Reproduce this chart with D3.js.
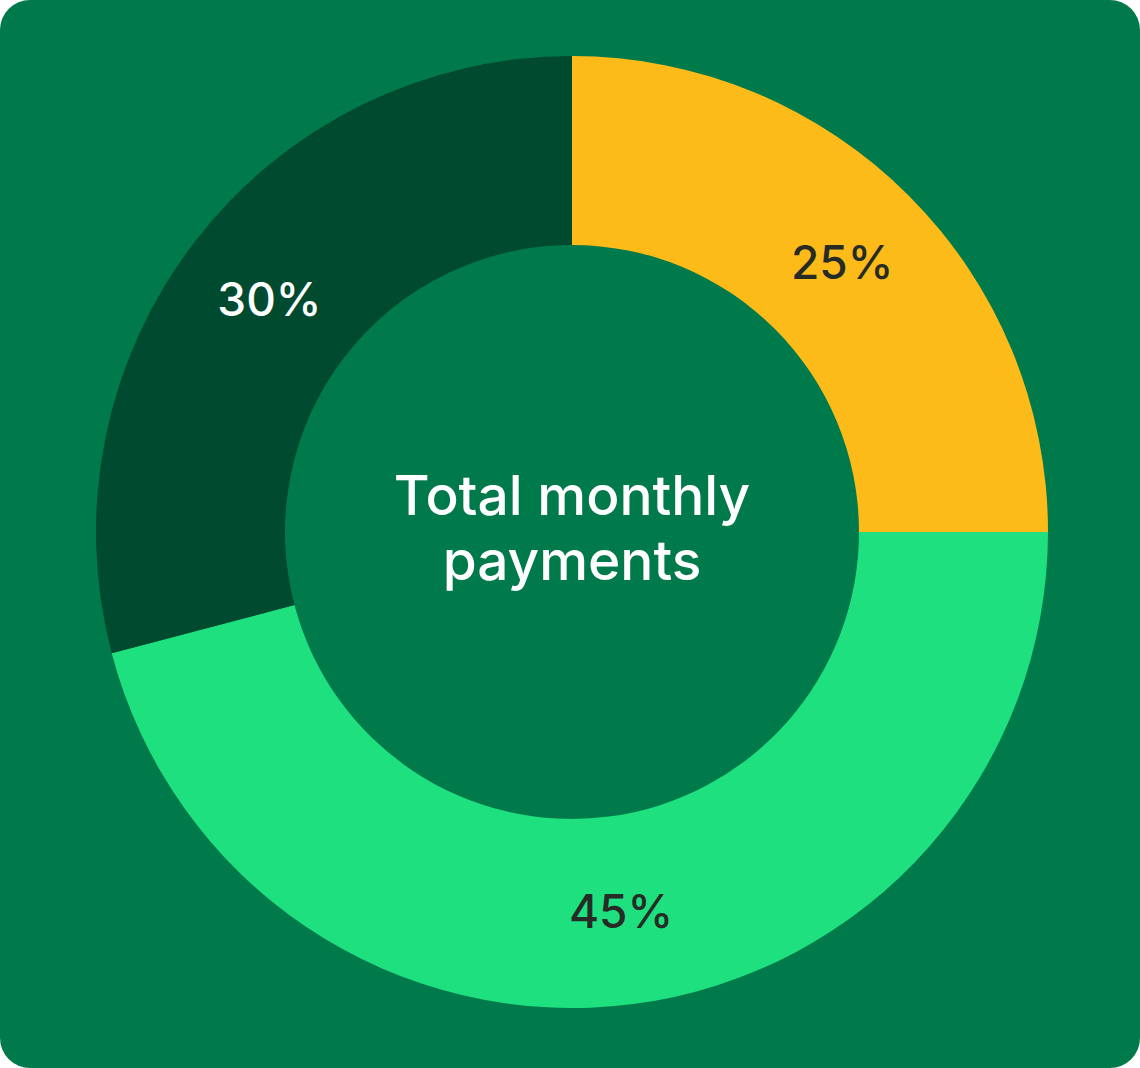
<!DOCTYPE html>
<html>
<head>
<meta charset="utf-8">
<script src="https://cdn.jsdelivr.net/npm/d3@7"></script>
<style>
  html, body { margin: 0; padding: 0; background: #ffffff; }
  svg { display: block; font-family: Inter, Roboto, sans-serif; }
</style>
</head>
<body>
<svg id="chart"></svg>
<script>
const categories = ['A', 'B', 'C'];
const shares = [25, 45.9, 29.1];
const labels = ['25%', '45%', '30%'];
const sliceColors = ['#fdbb19', '#1ee07f', '#004a30'];
const labelColors = ['#262b26', '#262b26', '#ffffff'];
const centerLines = ['Total monthly', 'payments'];

const width = 1140;
const height = 1068;
const cx = 572;
const cy = 532;
const outerR = 476;
const innerR = 287;

const svg = d3.select('#chart')
  .attr('width', width)
  .attr('height', height);

// Card background
svg.append('rect')
  .attr('width', width)
  .attr('height', height)
  .attr('rx', 30)
  .attr('fill', '#007a4a');

const g = svg.append('g')
  .attr('transform', `translate(${cx}, ${cy})`);

const data = categories.map((c, i) => ({ cat: c, value: shares[i], label: labels[i], i }));

const pie = d3.pie()
  .value(d => d.value)
  .sort(null);

const arc = d3.arc()
  .innerRadius(innerR)
  .outerRadius(outerR);

const labelArc = d3.arc()
  .innerRadius(382)
  .outerRadius(382);

const arcs = pie(data);

g.selectAll('.slice')
  .data(arcs)
  .enter()
  .append('path')
  .attr('class', 'slice')
  .attr('d', arc)
  .attr('fill', d => sliceColors[d.data.i]);

g.selectAll('.label')
  .data(arcs)
  .enter()
  .append('text')
  .attr('class', 'label')
  .attr('transform', d => `translate(${labelArc.centroid(d)})`)
  .attr('text-anchor', 'middle')
  .attr('dominant-baseline', 'central')
  .attr('font-size', 46)
  .attr('font-weight', 500)
  .attr('fill', d => labelColors[d.data.i])
  .text(d => d.data.label);

// Centre title
g.selectAll('.center')
  .data(centerLines)
  .enter()
  .append('text')
  .attr('class', 'center')
  .attr('text-anchor', 'middle')
  .attr('y', (d, i) => -17 + i * 65)
  .attr('font-size', 55)
  .attr('font-weight', 500)
  .attr('fill', '#ffffff')
  .text(d => d);
</script>
</body>
</html>
